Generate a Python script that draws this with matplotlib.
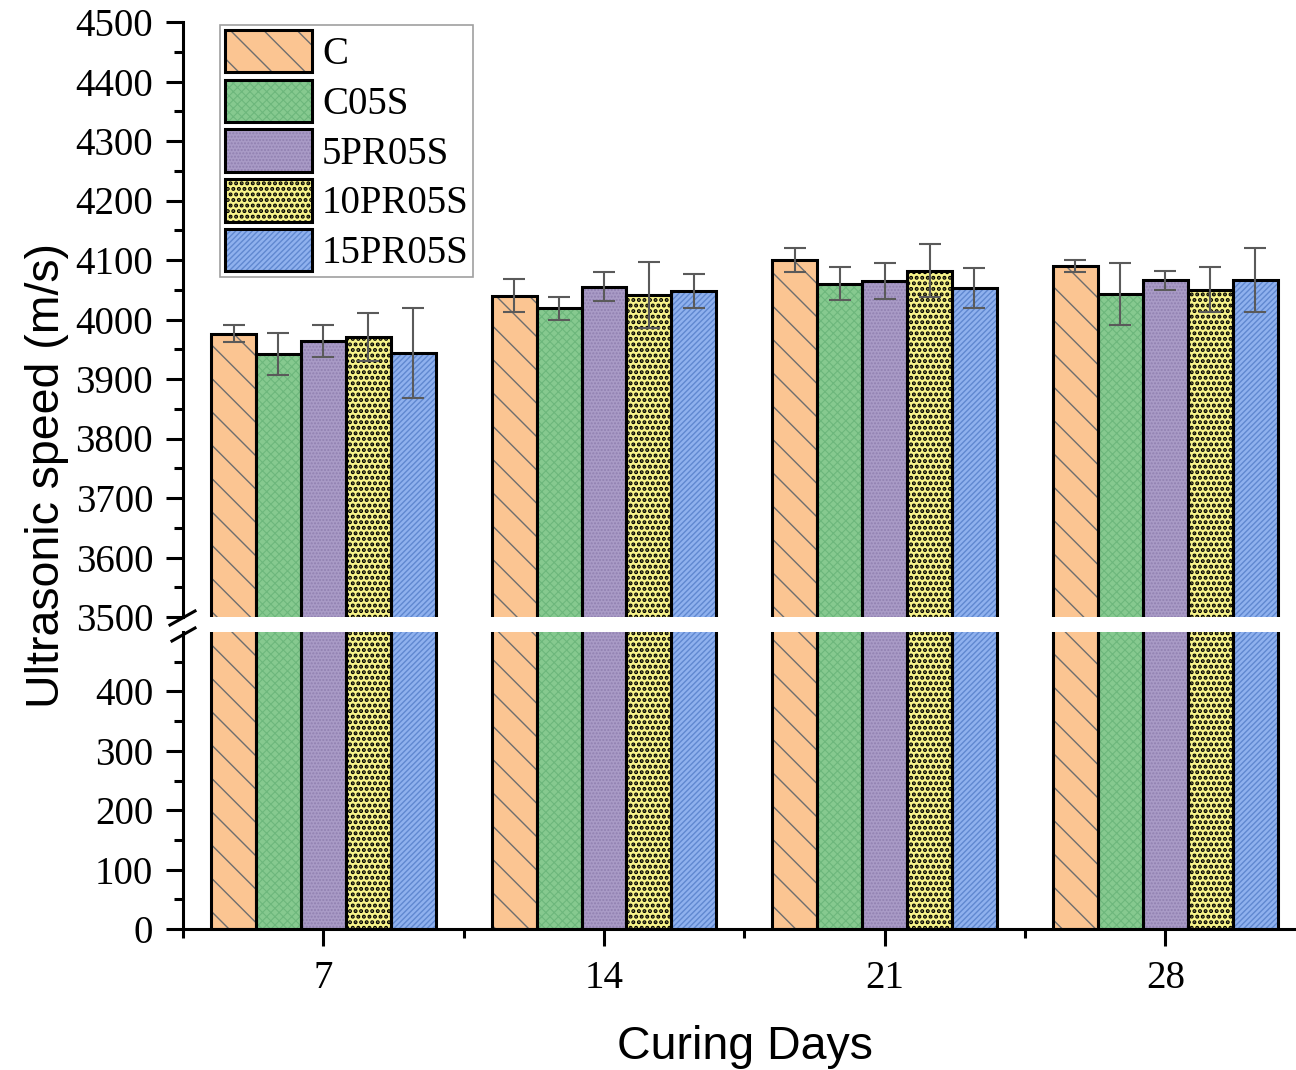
import matplotlib
matplotlib.use('Agg')
import matplotlib.pyplot as plt
from matplotlib.patches import Patch, Rectangle
from matplotlib.lines import Line2D
from matplotlib.legend_handler import HandlerTuple
from matplotlib.ticker import MultipleLocator, FixedLocator
import numpy as np

# ---------------- data ----------------
days = [7, 14, 21, 28]
series = ['C', 'C05S', '5PR05S', '10PR05S', '15PR05S']
speed_C = [3976, 4040, 4100, 4090]
speed_C05S = [3942, 4019, 4060, 4043]
speed_5PR05S = [3964, 4055, 4065, 4066]
speed_10PR05S = [3971, 4041, 4082, 4050]
speed_15PR05S = [3944, 4048, 4053, 4066]
err_C = [14, 28, 20, 10]
err_C05S = [35, 19, 28, 52]
err_5PR05S = [27, 24, 30, 16]
err_10PR05S = [40, 55, 45, 38]
err_15PR05S = [76, 29, 34, 54]
top_ticks = [3500, 3600, 3700, 3800, 3900, 4000, 4100, 4200, 4300, 4400, 4500]
bottom_ticks = [0, 100, 200, 300, 400]

values = [speed_C, speed_C05S, speed_5PR05S, speed_10PR05S, speed_15PR05S]
errors = [err_C, err_C05S, err_5PR05S, err_10PR05S, err_15PR05S]

# ---------------- style ----------------
face = ['#FBC592', '#86C98F', '#A99BC6', '#F8F48A', '#8FB1EE']
hatch_col = ['#6e6e6e', '#6DB77C', '#9080B0', '#000000', '#6088D0']
hatches = ['\\', 'xxxx', '.....', '...', '//////']
hatch_lw = [1.0, 0.8, 1.0, 2.0, 1.0]

serif = 'Liberation Serif'
sans = 'Liberation Sans'

W, H = 1296, 1070
fig = plt.figure(figsize=(W / 100, H / 100), dpi=100)
left = 183 / W
width = 1 - left
ax_top = fig.add_axes([left, 1 - 617 / H, width, (617 - 22) / H])
ax_bot = fig.add_axes([left, 1 - 929 / H, width, (929 - 632) / H])

days_arr = np.array(days, dtype=float)
bw = 1.12
for ax in (ax_top, ax_bot):
    for i in range(len(series)):
        xs = days_arr + (i - 2) * bw
        with plt.rc_context({'hatch.linewidth': hatch_lw[i]}):
            ax.bar(xs, values[i], width=bw, color=face[i], edgecolor=hatch_col[i],
                   linewidth=0, hatch=hatches[i], zorder=2)
        ax.bar(xs, values[i], width=bw, fill=False, edgecolor='black',
               linewidth=2.2, zorder=3)
    ax.set_xlim(3.5, 31.26)
    ax.spines['top'].set_visible(False)
    ax.spines['right'].set_visible(False)
    ax.spines['left'].set_linewidth(2.2)
    ax.spines['bottom'].set_linewidth(2.2)
    ax.tick_params(axis='y', which='major', direction='out', length=12.5, width=2.2,
                   labelsize=28, pad=9)
    ax.tick_params(axis='y', which='minor', direction='out', length=6.5, width=2.2)

for i in range(len(series)):
    xs = days_arr + (i - 2) * bw
    ax_top.errorbar(xs, values[i], yerr=errors[i], fmt='none', ecolor='#5a5a5a',
                    elinewidth=1.5, capsize=8, capthick=1.5, zorder=4)

ax_top.set_ylim(3500, 4500)
ax_top.yaxis.set_major_locator(FixedLocator(top_ticks))
ax_top.yaxis.set_minor_locator(MultipleLocator(50))
ax_top.spines['bottom'].set_visible(False)
ax_top.tick_params(axis='x', which='both', bottom=False, labelbottom=False)

ax_bot.set_ylim(0, 500)
ax_bot.yaxis.set_major_locator(FixedLocator(bottom_ticks))
ax_bot.yaxis.set_minor_locator(FixedLocator([50, 150, 250, 350, 450]))
ax_bot.xaxis.set_major_locator(FixedLocator(days))
ax_bot.xaxis.set_minor_locator(FixedLocator([3.5, 10.5, 17.5, 24.5]))
ax_bot.set_xticklabels([str(d) for d in days])
ax_bot.tick_params(axis='x', which='major', direction='out', length=12.5, width=2.2,
                   pad=10, labelsize=28)
ax_bot.tick_params(axis='x', which='minor', direction='out', length=6.5, width=2.2)
for lab in ax_bot.get_yticklabels() + ax_top.get_yticklabels() + ax_bot.get_xticklabels():
    lab.set_fontfamily(serif)
    lab.set_fontsize(28)

fig.text(745 / W, 1 - 1047 / H, 'Curing Days', ha='center', va='center',
         fontfamily=sans, fontsize=33.5)
fig.text(47 / W, 1 - 476 / H, 'Ultrasonic speed (m/s)', rotation=90,
         ha='center', va='center', fontfamily=sans, fontsize=33.5)

# break marks
for (x0, y0, x1, y1) in [(170, 625, 195, 611), (172, 641, 195, 628)]:
    fig.add_artist(Line2D([x0 / W, x1 / W], [1 - y0 / H, 1 - y1 / H],
                          transform=fig.transFigure, color='black', lw=2.2))

# legend
handles = []
for i in range(len(series)):
    h1 = Patch(facecolor=face[i], edgecolor=hatch_col[i], hatch=hatches[i], linewidth=0)
    h2 = Patch(fill=False, edgecolor='black', linewidth=2.2)
    handles.append((h1, h2))
leg = fig.legend(handles, series, handler_map={tuple: HandlerTuple(ndivide=1, pad=0)},
                 loc='upper left', bbox_to_anchor=(220 / W, 1 - 25 / H),
                 bbox_transform=fig.transFigure, frameon=True, fancybox=False,
                 prop={'family': serif, 'size': 28}, handlelength=2.25,
                 handleheight=1.3, labelspacing=0.17, handletextpad=0.25,
                 borderpad=0.12, borderaxespad=0)
leg.get_frame().set_edgecolor('#888888')
leg.get_frame().set_linewidth(1.2)
for p in leg.findobj(Rectangle):
    h = p.get_hatch()
    if h in hatches:
        lw = hatch_lw[hatches.index(h)]
        if hasattr(p, 'set_hatch_linewidth'):
            p.set_hatch_linewidth(lw)
        else:
            p._hatch_linewidth = lw

fig.savefig('out.png', dpi=100)
